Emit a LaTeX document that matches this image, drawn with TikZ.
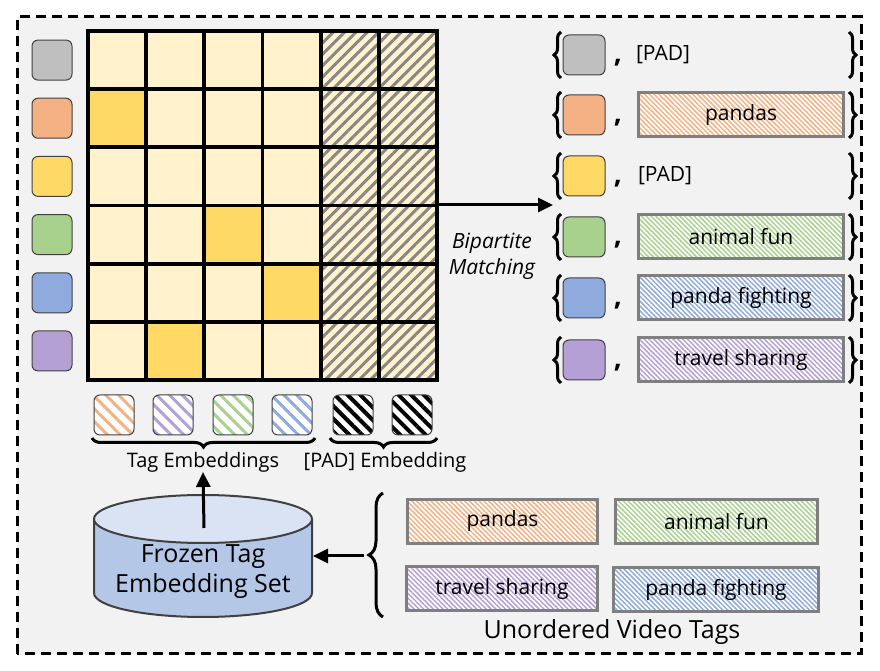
\documentclass[tikz,border=0pt]{standalone}
\usepackage{fontspec}
\setmainfont{Open Sans}
\usetikzlibrary{arrows.meta,patterns.meta,decorations.pathreplacing}

\definecolor{bgGray}{RGB}{242,242,242}
\definecolor{cellLight}{RGB}{255,242,204}
\definecolor{cellHigh}{RGB}{255,217,102}
\definecolor{padGray}{RGB}{135,135,135}
\definecolor{tagGray}{RGB}{191,191,191}
\definecolor{tagOrange}{RGB}{244,177,131}
\definecolor{tagYellow}{RGB}{255,217,102}
\definecolor{tagGreen}{RGB}{169,209,142}
\definecolor{tagBlue}{RGB}{143,170,220}
\definecolor{tagPurple}{RGB}{180,160,212}
\definecolor{boxBorder}{RGB}{127,127,127}
\definecolor{cylBody}{RGB}{180,199,231}
\definecolor{cylTop}{RGB}{218,227,243}
\definecolor{edgeDark}{RGB}{64,64,64}

\begin{document}
\begin{tikzpicture}[x=1pt,y=1pt,
  lbl/.style={inner sep=0pt,outer sep=0pt,font=\fontsize{21}{25}\selectfont},
  qbox/.style={draw=edgeDark,line width=1pt,rounded corners=6pt,minimum width=40pt,minimum height=40pt,inner sep=0pt},
  embbox/.style={qbox,preaction={fill=white}},
  tagbox/.style={draw=boxBorder,line width=3pt,inner sep=0pt,minimum height=44pt,font=\fontsize{21}{25}\selectfont,preaction={fill=white},pattern={Lines[angle=-45,distance=3.4pt,line width=1.5pt]}},
  brc/.style={decorate,decoration={brace,amplitude=#1},line width=3pt},
  arr/.style={line width=3pt,-{Triangle[length=15pt,width=14pt]}}
]
\useasboundingbox (0,0) rectangle (880,671);
\def\cw{58.17}

% frame
\path[fill=bgGray,draw=black,line width=3pt,dash pattern=on 10pt off 6pt] (17,17) rectangle (861,654);

% matching matrix
\fill[cellLight] (88,291) rectangle (437,640);
\foreach \c/\r in {0/1,2/3,3/4,1/5}
  \fill[cellHigh] ({88+\c*\cw},{640-\r*\cw}) rectangle ++(\cw,-\cw);
\path[pattern={Lines[angle=45,distance=8pt,line width=3pt]},pattern color=padGray] (321,291) rectangle (437,640);
\foreach \i in {1,...,5} {
  \draw[line width=3.8pt] ({88+\i*\cw},291) -- ({88+\i*\cw},640);
  \draw[line width=3.8pt] (88,{640-\i*\cw}) -- (437,{640-\i*\cw});
}
\draw[line width=3.8pt] (88,291) rectangle (437,640);

% predicted queries
\foreach \col [count=\i] in {tagGray,tagOrange,tagYellow,tagGreen,tagBlue,tagPurple}
  \node[qbox,fill=\col] (q\i) at (52,{640-(\i-0.5)*\cw}) {};

% embeddings
\foreach \col/\x/\lw [count=\i] in {tagOrange/114/3,tagPurple/173/3,tagGreen/233/3,tagBlue/292/3,black/353/4,black/412/4}
  \node[embbox,pattern={Lines[angle=-45,distance=9pt,line width=\lw pt]},pattern color=\col] (e\i) at (\x,256) {};
\draw[brc=9pt] (315,233) -- (92,233);
\draw[brc=9pt] (437,233) -- (330,233);
\node[lbl,font=\fontsize{20}{24}\selectfont] (tagemb) at (203,209) {Tag Embeddings};
\node[lbl,font=\fontsize{20}{24}\selectfont] (pademb) at (385,209) {[PAD] Embedding};

% frozen tag embedding set
\path[fill=cylBody,draw=edgeDark,line width=2pt] (94,152) -- (94,78) arc[start angle=180,end angle=360,x radius=109pt,y radius=24pt] -- (312,152);
\path[fill=cylTop,draw=edgeDark,line width=2pt] (203,152) ellipse[x radius=109pt,y radius=24pt];
\node[lbl,font=\fontsize{25}{30}\selectfont,align=center] (frozen) at (203,99) {Frozen Tag\\Embedding Set};
\coordinate (cylN) at (204,143);
\draw[arr] (cylN) -- (tagemb.south);

% unordered video tags
\draw[brc=14pt] (383,54) -- (383,178);
\coordinate (brcTip) at (364,115);
\coordinate (cylE) at (313,115);
\draw[arr] (brcTip) -- (cylE);
\node[tagbox,minimum width=190pt,pattern color=tagOrange] (tPandas) at (502.5,149.5) {pandas};
\node[tagbox,minimum width=202pt,pattern color=tagGreen] (tAnimal) at (716.5,149.5) {animal fun};
\node[tagbox,minimum width=191pt,pattern color=tagPurple] (tTravel) at (502,82) {travel sharing};
\node[tagbox,minimum width=205pt,pattern color=tagBlue] (tFight) at (716,81) {panda fighting};
\node[lbl,font=\fontsize{25}{30}\selectfont] (unordered) at (612,39) {Unordered Video Tags};

% bipartite matching
\coordinate (gridE) at (437,466);
\coordinate (matchW) at (553,466);
\draw[arr] (gridE) -- (matchW);
\node[lbl,font=\itshape\fontsize{21}{26}\selectfont,align=center] (bip) at (492,415) {Bipartite\\Matching};

% matched pairs
\foreach \y/\col [count=\i] in {616/tagGray,556/tagOrange,495/tagYellow,434/tagGreen,373/tagBlue,311/tagPurple} {
  \node[qbox,minimum width=42pt,fill=\col] (m\i) at (584,\y) {};
  \draw[brc=7pt] (561,{\y-23}) -- (561,{\y+23});
  \node[lbl,font=\bfseries\fontsize{28}{30}\selectfont] (cm\i) at (618,{\y-8}) {,};
  \draw[brc=7pt] (849,{\y+23}) -- (849,{\y-23});
}
\node[lbl,anchor=west] (pad1) at (636,616) {[PAD]};
\node[lbl,anchor=west] (pad3) at (638,495) {[PAD]};
\foreach \y/\col/\txt [count=\i] in {556/tagOrange/pandas,434/tagGreen/animal fun,373/tagBlue/panda fighting,311/tagPurple/travel sharing}
  \node[tagbox,minimum width=205pt,pattern color=\col] (r\i) at (741,\y) {\txt};
\end{tikzpicture}
\end{document}
